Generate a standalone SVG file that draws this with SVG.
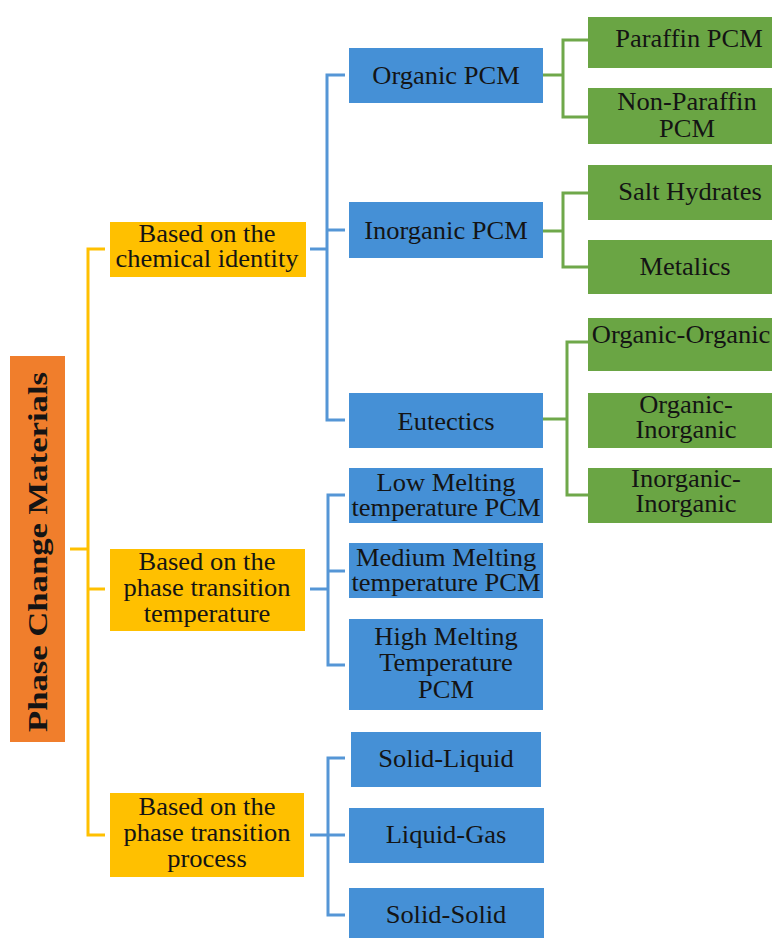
<svg xmlns="http://www.w3.org/2000/svg" width="772" height="938" viewBox="0 0 772 938">
<style>
.t{font-family:"Liberation Serif","Times New Roman",serif;font-size:25px;fill:#141414;text-anchor:middle}
.title{font-family:"Liberation Serif","Times New Roman",serif;font-size:28px;font-weight:bold;fill:#141414;text-anchor:middle}
.or{fill:#F07E2C}
.ye{fill:#FFC000}
.bl{fill:#4590D6}
.gr{fill:#6AA544}
.ly{fill:none;stroke:#FFC000;stroke-width:3}
.lb{fill:none;stroke:#5596D6;stroke-width:3}
.lg{fill:none;stroke:#6FA84A;stroke-width:3}
</style>
<rect width="772" height="938" fill="#ffffff"/>
<g id="connectors">
<path class="ly" d="M105,249 H88 V835 H105"/>
<path class="ly" d="M70,549 H88"/>
<path class="ly" d="M88,589 H105"/>
<path class="lb" d="M310,249 H327"/>
<path class="lb" d="M345,75 H327 V420 H345"/>
<path class="lb" d="M327,230 H345"/>
<path class="lb" d="M310,589 H328"/>
<path class="lb" d="M345,495 H328 V665 H345"/>
<path class="lb" d="M328,571 H345"/>
<path class="lb" d="M310,835 H345"/>
<path class="lb" d="M345,758 H328 V915 H345"/>
<path class="lg" d="M543,75 H563"/>
<path class="lg" d="M588,40 H563 V117 H588"/>
<path class="lg" d="M543,231 H563"/>
<path class="lg" d="M588,193 H563 V267 H588"/>
<path class="lg" d="M543,419 H567"/>
<path class="lg" d="M588,342 H567 V495 H588"/>
</g>
<g id="pcm">
<rect class="or" x="10" y="356" width="55" height="386"/>
<text class="title" transform="translate(47,552) rotate(-90)" textLength="360" lengthAdjust="spacingAndGlyphs">Phase Change Materials</text>
</g>
<g id="chemical">
<rect class="ye" x="110" y="222" width="196" height="55"/>
<text class="t" transform="translate(207,242) scale(1.06,1)"><tspan x="0">Based  on the</tspan><tspan x="0" dy="25.5">chemical identity</tspan></text>
</g>
<g id="temperature">
<rect class="ye" x="110" y="549" width="195" height="82"/>
<text class="t" transform="translate(207,570) scale(1.06,1)"><tspan x="0">Based  on the</tspan><tspan x="0" dy="26">phase transition</tspan><tspan x="0" dy="26">temperature</tspan></text>
</g>
<g id="process">
<rect class="ye" x="110" y="793" width="194" height="84"/>
<text class="t" transform="translate(207,815) scale(1.06,1)"><tspan x="0">Based  on the</tspan><tspan x="0" dy="26.5">phase transition</tspan><tspan x="0" dy="25.5">process</tspan></text>
</g>
<g id="organic">
<rect class="bl" x="349" y="48" width="194" height="55"/>
<text class="t" transform="translate(446,84) scale(1.06,1)">Organic PCM</text>
</g>
<g id="inorganic">
<rect class="bl" x="349" y="202" width="194" height="56"/>
<text class="t" transform="translate(446,239) scale(1.06,1)">Inorganic PCM</text>
</g>
<g id="eutectics">
<rect class="bl" x="349" y="393" width="194" height="55"/>
<text class="t" transform="translate(446,430) scale(1.06,1)">Eutectics</text>
</g>
<g id="low">
<rect class="bl" x="349" y="468" width="194" height="55"/>
<text class="t" transform="translate(446,491) scale(1.06,1)"><tspan x="0">Low Melting</tspan><tspan x="0" dy="25.5">temperature PCM</tspan></text>
</g>
<g id="medium">
<rect class="bl" x="349" y="543" width="194" height="55"/>
<text class="t" transform="translate(446,566) scale(1.06,1)"><tspan x="0">Medium Melting</tspan><tspan x="0" dy="25.5">temperature PCM</tspan></text>
</g>
<g id="high">
<rect class="bl" x="349" y="619" width="194" height="91"/>
<text class="t" transform="translate(446,645) scale(1.06,1)"><tspan x="0">High Melting</tspan><tspan x="0" dy="26.5">Temperature</tspan><tspan x="0" dy="26.5">PCM</tspan></text>
</g>
<g id="solid-liquid">
<rect class="bl" x="351" y="732" width="190" height="55"/>
<text class="t" transform="translate(446,767) scale(1.06,1)">Solid-Liquid</text>
</g>
<g id="liquid-gas">
<rect class="bl" x="349" y="808" width="195" height="55"/>
<text class="t" transform="translate(446,843) scale(1.06,1)">Liquid-Gas</text>
</g>
<g id="solid-solid">
<rect class="bl" x="349" y="888" width="195" height="60"/>
<text class="t" transform="translate(446,923) scale(1.06,1)">Solid-Solid</text>
</g>
<g id="paraffin">
<rect class="gr" x="588" y="17" width="200" height="51"/>
<text class="t" transform="translate(689,47) scale(1.06,1)">Paraffin PCM</text>
</g>
<g id="non-paraffin">
<rect class="gr" x="588" y="88" width="200" height="56"/>
<text class="t" transform="translate(687,110) scale(1.06,1)"><tspan x="0">Non-Paraffin</tspan><tspan x="0" dy="27">PCM</tspan></text>
</g>
<g id="salt-hydrates">
<rect class="gr" x="588" y="165" width="200" height="55"/>
<text class="t" transform="translate(690,200) scale(1.06,1)">Salt Hydrates</text>
</g>
<g id="metalics">
<rect class="gr" x="588" y="240" width="200" height="54"/>
<text class="t" transform="translate(685,275) scale(1.06,1)">Metalics</text>
</g>
<g id="organic-organic">
<rect class="gr" x="588" y="318" width="200" height="53"/>
<text class="t" transform="translate(681,343) scale(1.06,1)">Organic-Organic</text>
</g>
<g id="organic-inorganic">
<rect class="gr" x="588" y="393" width="200" height="55"/>
<text class="t" transform="translate(686,413) scale(1.06,1)"><tspan x="0">Organic-</tspan><tspan x="0" dy="25.5">Inorganic</tspan></text>
</g>
<g id="inorganic-inorganic">
<rect class="gr" x="588" y="468" width="200" height="55"/>
<text class="t" transform="translate(686,487) scale(1.06,1)"><tspan x="0">Inorganic-</tspan><tspan x="0" dy="25.5">Inorganic</tspan></text>
</g>
</svg>
